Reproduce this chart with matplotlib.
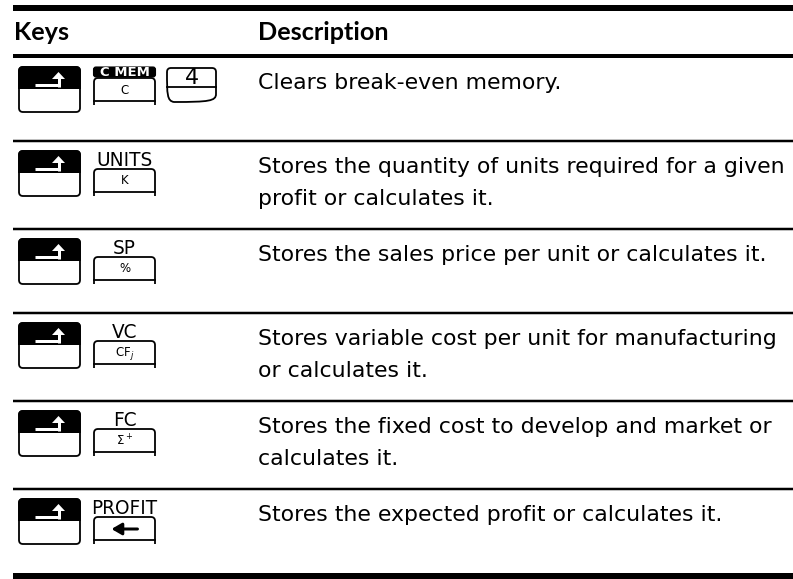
import matplotlib
matplotlib.use("Agg")
import matplotlib.pyplot as plt
from matplotlib.patches import FancyBboxPatch, Rectangle, PathPatch, Polygon
from matplotlib.path import Path

plt.rcParams['font.family'] = ['DejaVu Sans']

# table content
header = ["Keys", "Description"]
shift_labels = ["C MEM", "UNITS", "SP", "VC", "FC", "PROFIT"]
key_faces = ["C", "K", "%", "CF$_j$", "Σ$^+$", "←"]
extra_keys = ["4", None, None, None, None, None]
descriptions = [
    ["Clears break-even memory."],
    ["Stores the quantity of units required for a given", "profit or calculates it."],
    ["Stores the sales price per unit or calculates it."],
    ["Stores variable cost per unit for manufacturing", "or calculates it."],
    ["Stores the fixed cost to develop and market or", "calculates it."],
    ["Stores the expected profit or calculates it."],
]

W, H = 793, 579
fig = plt.figure(figsize=(W / 100, H / 100), dpi=100)
ax = fig.add_axes([0, 0, 1, 1])
ax.set_xlim(0, W)
ax.set_ylim(H, 0)
ax.axis('off')
renderer = fig.canvas.get_renderer()

PX = 0.72  # one pixel in points
LEFT = 13
DESC_X = 258


def fit_size(text, target_px, base=12, **kw):
    t = ax.text(0, 0, text, fontsize=base, **kw)
    w = t.get_window_extent(renderer).width
    t.remove()
    return base * target_px / w


desc_fs = fit_size(descriptions[1][0], 522)
head_fs = fit_size(header[1], 130, fontweight='bold', family='Lato')
lab_fs = fit_size("UNITS", 56)


def hline(y, lw):
    ax.plot([LEFT, W], [y, y], color='black', lw=lw * PX, solid_capstyle='butt')


def shift_key(x0, top):
    w, h = 61, 45
    body = FancyBboxPatch((x0, top), w, h, boxstyle="round,pad=0,rounding_size=4",
                          fc='white', ec='black', lw=1.8 * PX)
    ax.add_patch(body)
    dark = FancyBboxPatch((x0, top), w, h, boxstyle="round,pad=0,rounding_size=4",
                          fc='black', ec='black', lw=1.8 * PX)
    clip = Rectangle((x0 - 3, top - 3), w + 6, 25, transform=ax.transData)
    ax.add_patch(dark)
    dark.set_clip_path(clip)
    # shift arrow
    ax.plot([x0 + 16, x0 + 39.5], [top + 18, top + 18], color='white', lw=3 * PX,
            solid_capstyle='butt')
    ax.plot([x0 + 39.5, x0 + 39.5], [top + 19.5, top + 11], color='white', lw=3 * PX,
            solid_capstyle='butt')
    ax.add_patch(Polygon([(x0 + 33, top + 12), (x0 + 46, top + 12), (x0 + 39.5, top + 5)],
                         closed=True, fc='white', ec='none'))


def lower_key(xc, top, face, inner=23, side=27):
    w, r = 61, 4
    x0 = xc - w / 2
    verts = [(x0, top + side), (x0, top + r), (x0, top), (x0 + r, top),
             (x0 + w - r, top), (x0 + w, top), (x0 + w, top + r), (x0 + w, top + side)]
    codes = [Path.MOVETO, Path.LINETO, Path.CURVE3, Path.CURVE3,
             Path.LINETO, Path.CURVE3, Path.CURVE3, Path.LINETO]
    ax.add_patch(PathPatch(Path(verts, codes), fc='none', ec='black', lw=1.8 * PX))
    ax.plot([x0, x0 + w], [top + inner, top + inner], color='black', lw=1.8 * PX)
    if face == "←":
        ax.annotate("", xy=(xc - 13, top + inner / 2 + 0.5), xytext=(xc + 13, top + inner / 2 + 0.5),
                    arrowprops=dict(arrowstyle='-|>,head_width=0.35,head_length=0.6',
                                    lw=3 * PX, color='black', shrinkA=0, shrinkB=0))
    else:
        ax.text(xc, top + inner / 2 + 0.5, face, ha='center', va='center', fontsize=8.5)


def digit_key(x0, top, face):
    w, r, inner, bottom = 49, 4, 19, 34
    verts = [(x0, top + r), (x0, top), (x0 + r, top),
             (x0 + w - r, top), (x0 + w, top), (x0 + w, top + r),
             (x0 + w, top + bottom - 8), (x0 + w, top + bottom - 1), (x0 + w - 7, top + bottom),
             (x0 + 7, top + bottom), (x0, top + bottom - 1), (x0, top + bottom - 8),
             (x0, top + r)]
    codes = [Path.MOVETO, Path.CURVE3, Path.CURVE3,
             Path.LINETO, Path.CURVE3, Path.CURVE3,
             Path.LINETO, Path.CURVE4, Path.CURVE4,
             Path.LINETO, Path.CURVE4, Path.CURVE4,
             Path.CLOSEPOLY]
    ax.add_patch(PathPatch(Path(verts, codes), fc='none', ec='black', lw=1.8 * PX))
    ax.plot([x0, x0 + w], [top + inner, top + inner], color='black', lw=1.8 * PX)
    ax.text(x0 + w / 2, top + inner / 2 + 1, face, ha='center', va='center', fontsize=16)


# header
hline(8, 6)
ax.text(LEFT + 1, 33, header[0], fontsize=head_fs, fontweight='bold', family='Lato',
        va='center', ha='left')
ax.text(DESC_X, 33, header[1], fontsize=head_fs, fontweight='bold', family='Lato',
        va='center', ha='left')
hline(55.5, 4)

KEY_XC = 124.5
row_top = 57
for i, (lab, face, extra, desc) in enumerate(zip(shift_labels, key_faces, extra_keys, descriptions)):
    row_h = 84 if len(desc) == 1 else 88
    t = row_top + 10
    shift_key(19, t)
    if i == 0:
        # inverted shifted label
        ax.add_patch(FancyBboxPatch((KEY_XC - 31, t), 62, 10,
                                    boxstyle="round,pad=0,rounding_size=2.5",
                                    fc='black', ec='black', lw=0.8))
        ax.text(KEY_XC, t + 5.5, lab, color='white', fontsize=9.5, fontweight='bold',
                ha='center', va='center')
        lower_key(KEY_XC, t + 11, face)
    else:
        ax.text(KEY_XC, t + 9, lab, fontsize=lab_fs, ha='center', va='center')
        lower_key(KEY_XC, t + 18, face)
    if extra is not None:
        digit_key(167, t + 1, extra)
    for j, line in enumerate(desc):
        ax.text(DESC_X, row_top + 26 + 32 * j, line, fontsize=desc_fs, ha='left', va='center')
    row_top += row_h
    if i < len(shift_labels) - 1:
        hline(row_top, 2.5)

hline(576, 6)

fig.savefig("out.png", dpi=100)
